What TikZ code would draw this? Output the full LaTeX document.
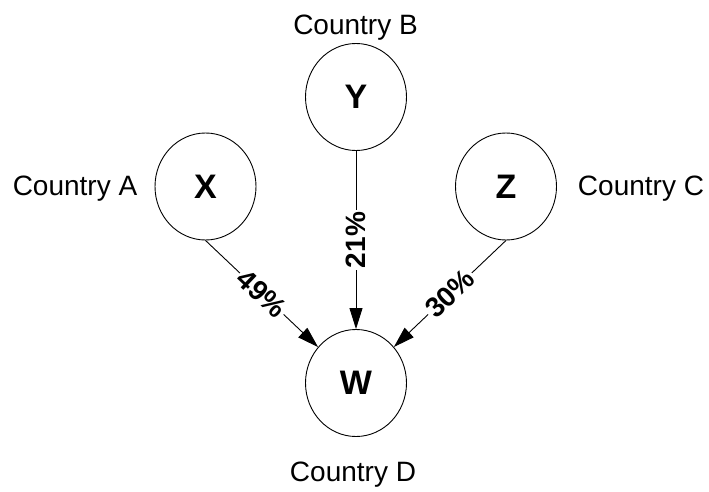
\documentclass[tikz,border=0pt]{standalone}
\usepackage{fontspec}
\setmainfont{Liberation Sans}
\usetikzlibrary{arrows.meta,shapes.geometric}
\tikzset{
  country/.style={ellipse,draw,line width=0.9pt,minimum width=101pt,minimum height=107pt,inner sep=0pt,font=\fontsize{34}{40}\selectfont\bfseries},
  cname/.style={anchor=base,inner sep=0pt,font=\fontsize{28}{34}\selectfont},
  flow/.style={line width=0.9pt,-{Triangle[length=21pt,width=13pt]}},
  pct/.style={fill=white,inner sep=2pt,font=\fontsize{28}{34}\selectfont\bfseries}
}
\begin{document}
\begin{tikzpicture}[x=1pt,y=1pt]
\useasboundingbox (0,0) rectangle (709,491);
\node[country] (X) at (205.5,304.5) {X};
\node[country] (Y) at (356,394) {Y};
\node[country] (Z) at (506,304.5) {Z};
\node[country] (W) at (356,108) {W};
\node[cname] (la) at (75,296) {Country A};
\node[cname] (lb) at (355.5,456) {Country B};
\node[cname] (lc) at (641,296) {Country C};
\node[cname] (ld) at (353,10) {Country D};
\draw[flow] (X.south) -- node[pct,sloped,pos=0.5] {49\%} (W);
\draw[flow] (Y.south) -- node[pct,rotate=90,pos=0.5] {21\%} (W.north);
\draw[flow] (Z.south) -- node[pct,sloped,pos=0.5] {30\%} (W);
\end{tikzpicture}
\end{document}
